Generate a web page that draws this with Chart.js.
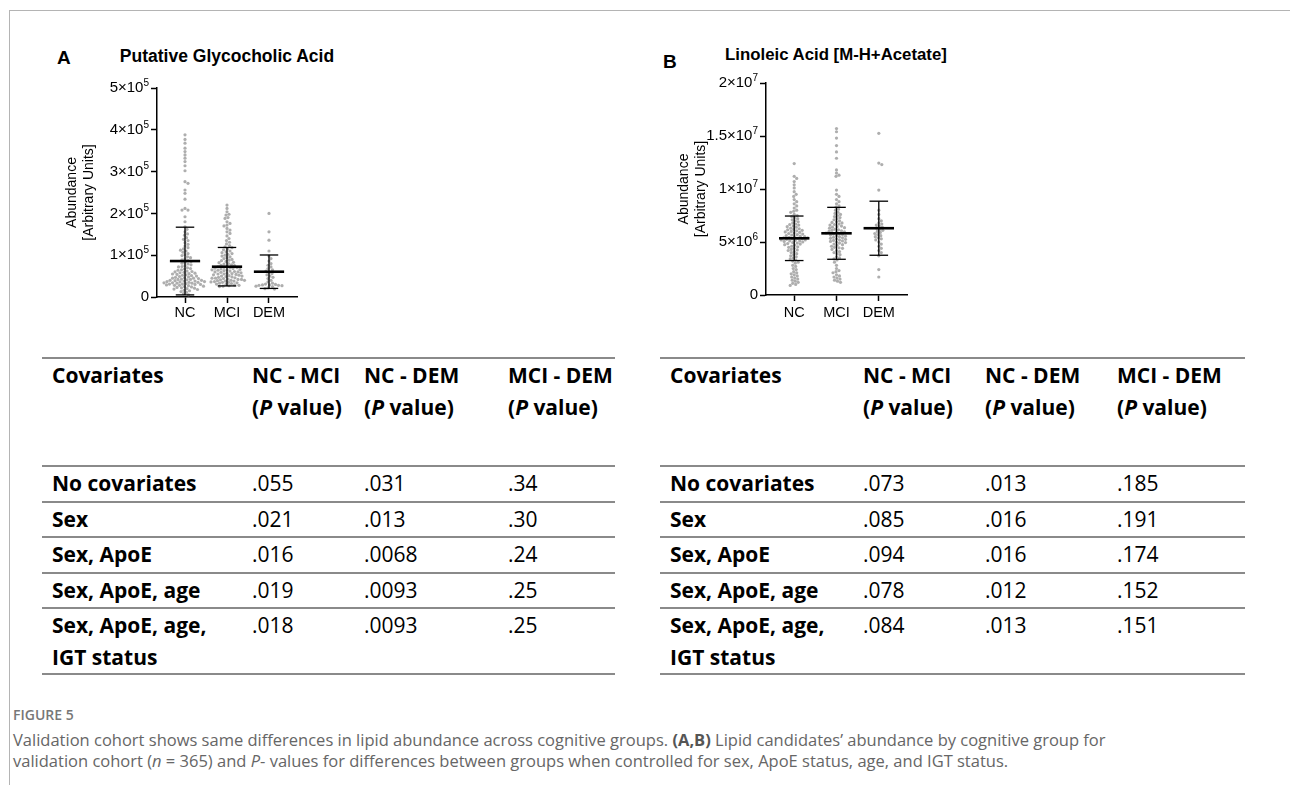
<!DOCTYPE html>
<html>
<head>
<meta charset="utf-8">
<script src="https://cdn.jsdelivr.net/npm/chart.js@4.4.1/dist/chart.umd.min.js"></script>
<style>
  body { margin: 0; width: 1290px; height: 785px; background: #fff; position: relative; overflow: hidden; font-family: "Liberation Sans", Arial, sans-serif; }
  .frame-top { position: absolute; left: 9px; top: 10px; width: 1281px; border-top: 1.5px solid #b4b4b4; }
  .frame-left { position: absolute; left: 9px; top: 10px; height: 775px; border-left: 1.5px solid #b4b4b4; }
  .plabel { position: absolute; font-weight: bold; font-size: 19px; line-height: 1; }
  .ptitle { position: absolute; font-weight: bold; line-height: 1; transform: translateX(-50%); white-space: nowrap; }
  canvas { position: absolute; }
  table { position: absolute; border-collapse: collapse; table-layout: fixed; font-family: "Open Sans", sans-serif; font-size: 21px; color: #000; }
  td { padding: 0 0 0 10px; vertical-align: top; line-height: 32px; border-top: 2px solid #8a8a8a; box-sizing: border-box; white-space: nowrap; }
  td.lab, tr.head td { font-weight: 700; }
  tr.head td { height: 108px; }
  tr.row td { height: 35.5px; }
  tr.last td { height: 63px; border-bottom: 2px solid #8a8a8a; }
  .fig { position: absolute; left: 13px; top: 705px; font-family: "Open Sans", sans-serif; font-weight: 600; font-size: 14px; color: #777; }
  .cap { position: absolute; left: 13px; top: 729px; font-family: "Open Sans", sans-serif; font-size: 16.5px; line-height: 21px; color: #666; white-space: nowrap; }
  .cap b { color: #555; }
</style>
</head>
<body>
<div class="frame-top"></div>
<div class="frame-left"></div>

<div class="plabel" style="left:57px; top:48px;">A</div>
<div class="ptitle" style="left:227px; top:48px; font-size:17.5px;">Putative Glycocholic Acid</div>
<canvas id="chartA" width="280" height="265" style="left:40px; top:70px;"></canvas>

<div class="plabel" style="left:663px; top:52px;">B</div>
<div class="ptitle" style="left:836px; top:47px; font-size:16.8px;">Linoleic Acid [M-H+Acetate]</div>
<canvas id="chartB" width="280" height="265" style="left:650px; top:65px;"></canvas>

<table id="tableA" style="left:42px; top:357px; width:573px;"></table>
<table id="tableB" style="left:660px; top:357px; width:585px;"></table>

<div class="fig">FIGURE 5</div>
<div class="cap"><div>Validation cohort shows same differences in lipid abundance across cognitive groups. <b>(A,B)</b> Lipid candidates’ abundance by cognitive group for</div><div>validation cohort (<i>n</i> = 365) and <i>P</i>- values for differences between groups when controlled for sex, ApoE status, age, and IGT status.</div></div>

<script>
const groups = ['NC', 'MCI', 'DEM'];

// Panel A - putative glycocholic acid, abundance in units of 1x10^4
const glycoNC = [38.8, 37.7, 36.8, 35.6, 34.8, 34.0, 33.2, 32.4, 31.4, 30.2, 27.6, 27.2, 25.6, 24.8, 23.4, 21.2, 20.8, 20.8, 19.2, 18.0,
  16.8, 16.2, 15.6, 15.1, 14.8, 14.2, 13.8, 13.5, 13.0, 12.6, 12.2,
  11.8, 11.5, 11.2, 11.0, 10.7, 10.4, 10.1, 9.9, 9.6, 9.4, 9.1, 8.9, 8.7, 8.5, 8.3, 8.1,
  7.9, 7.7, 7.5, 7.3, 7.2, 7.0, 6.8, 6.7, 6.5, 6.4, 6.2, 6.1, 6.0, 5.9, 5.8, 5.7, 5.6, 5.5, 5.4, 5.3, 5.2, 5.1, 5.0,
  4.9, 4.8, 4.7, 4.6, 4.5, 4.5, 4.4, 4.3, 4.2, 4.2, 4.1, 4.0, 4.0, 3.9, 3.8, 3.8, 3.7, 3.7, 3.6, 3.5, 3.5, 3.4, 3.4, 3.3, 3.3,
  3.2, 3.1, 3.1, 3.0, 3.0, 2.9, 2.8, 2.8, 2.7, 2.6, 2.5, 2.4, 2.3, 2.2, 2.1, 2.0, 1.9, 1.8, 1.6, 1.5, 1.3, 1.1, 0.8, 0.5];
const glycoMCI = [22.0, 21.2, 20.4, 19.8, 19.6, 19.0, 18.8, 18.0, 17.6, 17.2, 17.0, 16.4, 16.0, 15.6, 15.2, 14.6,
  14.0, 13.5, 13.1, 12.7, 12.3, 12.0, 11.8, 11.5, 11.3, 11.0, 10.8, 10.6, 10.4, 10.2, 10.0,
  9.8, 9.6, 9.4, 9.2, 9.0, 8.8, 8.7, 8.5, 8.3, 8.2, 8.0, 7.9, 7.7, 7.6, 7.5, 7.3, 7.2, 7.1, 7.0, 6.9, 6.8, 6.7, 6.6, 6.5, 6.4, 6.3, 6.2, 6.1, 6.0,
  7.0, 6.5, 6.0, 5.5, 5.0, 4.5, 4.2, 4.0, 3.8, 3.5,
  5.9, 5.8, 5.7, 5.6, 5.5, 5.4, 5.3, 5.2, 5.1, 5.0, 4.9, 4.8, 4.7, 4.6, 4.5, 4.4, 4.3, 4.2, 4.1, 4.0, 3.9, 3.8, 3.7, 3.6, 3.5, 3.4, 3.3, 3.2, 3.1, 3.0,
  2.9, 2.8, 2.7, 2.6, 2.5];
const glycoDEM = [20.0, 15.6, 13.6, 11.0, 9.8, 9.2, 8.6, 8.0, 7.6, 7.2, 6.8, 6.5, 6.2, 5.9, 5.6, 5.3, 5.0, 4.7, 4.4, 4.0, 3.6, 3.3,
  3.1, 3.0, 2.9, 2.9, 2.8, 2.8, 2.7, 2.6, 2.5, 2.2, 2.0, 1.9];
const glycoMean = [8.6, 7.25, 6.05];
const glycoSD = [8.1, 4.6, 4.0];
const glycoTicks = ['0', '1×10^5', '2×10^5', '3×10^5', '4×10^5', '5×10^5'];

// Panel B - linoleic acid [M-H+Acetate], abundance in units of 1x10^5
const linoNC = [124, 112, 110, 107, 104, 101, 97.5, 95, 93, 90, 88, 86,
  84, 82, 80, 79, 78, 76, 75, 74, 73, 72, 71, 70,
  69, 68, 67, 66.5, 66, 65, 64.5, 64, 63, 62.5, 62, 61.5, 61, 60.5, 60,
  59.5, 59, 58.5, 58, 57.5, 57, 56.5, 56, 55.5, 55, 55, 54.5, 54, 54, 53.5, 53, 53, 52.5, 52, 52, 51.5, 51, 51, 50.5, 50,
  49.5, 49, 48.5, 48, 47.5, 47, 46, 45.5, 45, 44, 43, 42.5, 42, 41, 40,
  39, 38, 37, 36, 35, 34, 33, 32, 31, 30,
  28, 27, 25, 24, 22, 21, 20, 19, 18, 17, 16, 15, 14, 13, 12, 11, 10, 9];
const linoMCI = [157, 154, 148, 141, 135, 129, 118, 115, 113, 112, 99, 95, 93, 90, 88, 86,
  84, 83, 81, 80, 78, 77, 76, 75, 74, 73, 72, 71, 70,
  69, 68.5, 68, 67, 66.5, 66, 65, 64.5, 64, 63.5, 63, 62, 61.5, 61, 60.5, 60,
  59.5, 59, 58.5, 58, 57.5, 57, 56.5, 56, 55.5, 55, 54.5, 54, 53.5, 53, 52.5, 52, 51.5, 51, 50.5, 50,
  49.5, 49, 48, 47.5, 47, 46, 45, 44.5, 44, 43, 42, 41, 40,
  39, 38, 36, 35, 34, 33, 31,
  28, 25, 23, 22, 21, 19, 18, 17, 16, 15, 14, 13, 12];
const linoDEM = [152.5, 124.5, 123, 99, 80, 76, 72, 70, 68, 67, 66, 65, 64, 63, 62, 61, 60, 59, 58, 57, 56, 55, 54, 53, 52,
  50, 48, 46, 44, 42, 40, 37, 24, 17];
const linoMean = [53.5, 58.2, 63.0];
const linoSD = [21, 24.5, 25.5];
const linoTicks = ['0', '5×10^6', '1×10^7', '1.5×10^7', '2×10^7'];

// tables (each entry is a list of lines)
const covariates = [['No covariates'], ['Sex'], ['Sex, ApoE'], ['Sex, ApoE, age'], ['Sex, ApoE, age,', 'IGT status']];
const headers = [['Covariates'], ['NC - MCI', '(<i>P</i> value)'], ['NC - DEM', '(<i>P</i> value)'], ['MCI - DEM', '(<i>P</i> value)']];
const pGlyco = [['.055', '.031', '.34'], ['.021', '.013', '.30'], ['.016', '.0068', '.24'], ['.019', '.0093', '.25'], ['.018', '.0093', '.25']];
const pLino = [['.073', '.013', '.185'], ['.085', '.016', '.191'], ['.094', '.016', '.174'], ['.078', '.012', '.152'], ['.084', '.013', '.151']];

const FONT = '"Liberation Sans", Arial, sans-serif';

const lines = arr => arr.map(l => `<div>${l}</div>`).join('');

function buildTable(id, colWidths, pvals) {
  const t = document.getElementById(id);
  let html = '<colgroup>' + colWidths.map(w => `<col style="width:${w}px">`).join('') + '</colgroup>';
  html += '<tr class="head">' + headers.map(h => `<td>${lines(h)}</td>`).join('') + '</tr>';
  covariates.forEach((c, i) => {
    const cls = i === covariates.length - 1 ? 'last' : 'row';
    html += `<tr class="${cls}"><td class="lab">${lines(c)}</td>` + pvals[i].map(p => `<td>${p}</td>`).join('') + '</tr>';
  });
  t.innerHTML = html;
}
buildTable('tableA', [200, 112, 144, 117], pGlyco);
buildTable('tableB', [193, 122, 132, 138], pLino);

// simple beeswarm: place each dot as close to the group centre as it can go without overlapping
function swarm(values, centre, chart, dia) {
  const xs = chart.scales.x, ys = chart.scales.y;
  const pxPerX = xs.getPixelForValue(1) - xs.getPixelForValue(0);
  const pts = values.map(v => ({ v, py: ys.getPixelForValue(v) })).sort((a, b) => a.py - b.py);
  const placed = [];
  for (const p of pts) {
    let off = 0;
    for (let k = 0; k < 400; k++) {
      off = (k % 2 ? 1 : -1) * Math.ceil(k / 2) * 0.5;
      const near = placed.filter(q => Math.abs(q.py - p.py) < dia);
      if (near.every(q => (q.px - off) ** 2 + (q.py - p.py) ** 2 >= dia * dia)) break;
    }
    placed.push({ px: off, py: p.py, v: p.v });
  }
  return placed.map(q => ({ x: centre + q.px / pxPerX, y: q.v }));
}

// y tick labels like 5×10^5, drawn with a raised exponent
const powerTicks = {
  id: 'powerTicks',
  afterDraw(chart, args, opts) {
    const { ctx } = chart;
    const y = chart.scales.y;
    const right = y.right - 8;
    ctx.save();
    ctx.fillStyle = '#000';
    ctx.textBaseline = 'middle';
    y.ticks.forEach(t => {
      const [base, exp] = opts.labels[Math.round(t.value / opts.step)].split('^');
      const py = y.getPixelForValue(t.value);
      ctx.font = '10px ' + FONT;
      const ew = exp ? ctx.measureText(exp).width : 0;
      ctx.textAlign = 'right';
      if (exp) ctx.fillText(exp, right, py - 5);
      ctx.font = '15px ' + FONT;
      ctx.fillText(base, right - ew, py);
    });
    ctx.restore();
  }
};

function seg(points, width) {
  return { type: 'line', data: points, borderColor: '#000', borderWidth: width, pointRadius: 0, showLine: true, fill: false, order: 0 };
}

function makeChart(id, o) {
  const datasets = o.values.map(vals => ({
    type: 'scatter', data: vals.map(v => ({ x: 0, y: v })), pointRadius: 1.6,
    pointBackgroundColor: 'rgba(140,140,140,0.7)', pointBorderWidth: 0, order: 1
  }));
  o.mean.forEach((m, i) => {
    datasets.push(seg([{ x: i - 0.36, y: m }, { x: i + 0.36, y: m }], 2.6));
    datasets.push(seg([{ x: i, y: m - o.sd[i] }, { x: i, y: m + o.sd[i] }], 1.3));
    datasets.push(seg([{ x: i - 0.22, y: m + o.sd[i] }, { x: i + 0.22, y: m + o.sd[i] }], 1.3));
    datasets.push(seg([{ x: i - 0.22, y: m - o.sd[i] }, { x: i + 0.22, y: m - o.sd[i] }], 1.3));
  });
  const axisGrid = { drawOnChartArea: false, drawTicks: true, tickLength: 6, tickColor: '#000', tickWidth: 1.5 };
  const axisBorder = { color: '#000', width: 1.5 };
  const chart = new Chart(document.getElementById(id), {
    type: 'scatter',
    data: { datasets },
    plugins: [powerTicks],
    options: {
      responsive: false, animation: false, devicePixelRatio: 1,
      layout: { padding: { top: o.padTop, right: o.padRight, left: 0, bottom: 0 } },
      plugins: { legend: { display: false }, tooltip: { enabled: false }, powerTicks: { labels: o.ticks, step: o.yStep } },
      scales: {
        x: {
          type: 'linear', min: -0.667, max: 2.667,
          afterBuildTicks: s => { s.ticks = [0, 1, 2].map(v => ({ value: v })); },
          afterFit: s => { s.height = o.xHeight; },
          ticks: { callback: v => groups[v], color: '#000', font: { family: FONT, size: 14.5 }, padding: o.xPad, maxRotation: 0, autoSkip: false },
          grid: axisGrid, border: axisBorder
        },
        y: {
          min: 0, max: o.yMax,
          afterBuildTicks: s => { s.ticks = o.ticks.map((t, i) => ({ value: i * o.yStep })); },
          afterFit: s => { s.width = o.yWidth; },
          ticks: { display: false },
          title: { display: true, text: ['Abundance', '[Arbitrary Units]'], color: '#000', font: { family: FONT, size: 14, lineHeight: 1.2 }, padding: { top: o.titlePad, bottom: 0 } },
          grid: axisGrid, border: axisBorder
        }
      }
    }
  });
  o.values.forEach((vals, i) => { chart.data.datasets[i].data = swarm(vals, i, chart, 3.1); });
  chart.update('none');
  return chart;
}

makeChart('chartA', {
  values: [glycoNC, glycoMCI, glycoDEM], mean: glycoMean, sd: glycoSD,
  yMax: 50, yStep: 10, ticks: glycoTicks,
  padTop: 18, padRight: 23, yWidth: 117, xHeight: 38, titlePad: 24, xPad: 1
});
makeChart('chartB', {
  values: [linoNC, linoMCI, linoDEM], mean: linoMean, sd: linoSD,
  yMax: 200, yStep: 50, ticks: linoTicks,
  padTop: 18, padRight: 23, yWidth: 116, xHeight: 35, titlePad: 26, xPad: 3
});
</script>
</body>
</html>
